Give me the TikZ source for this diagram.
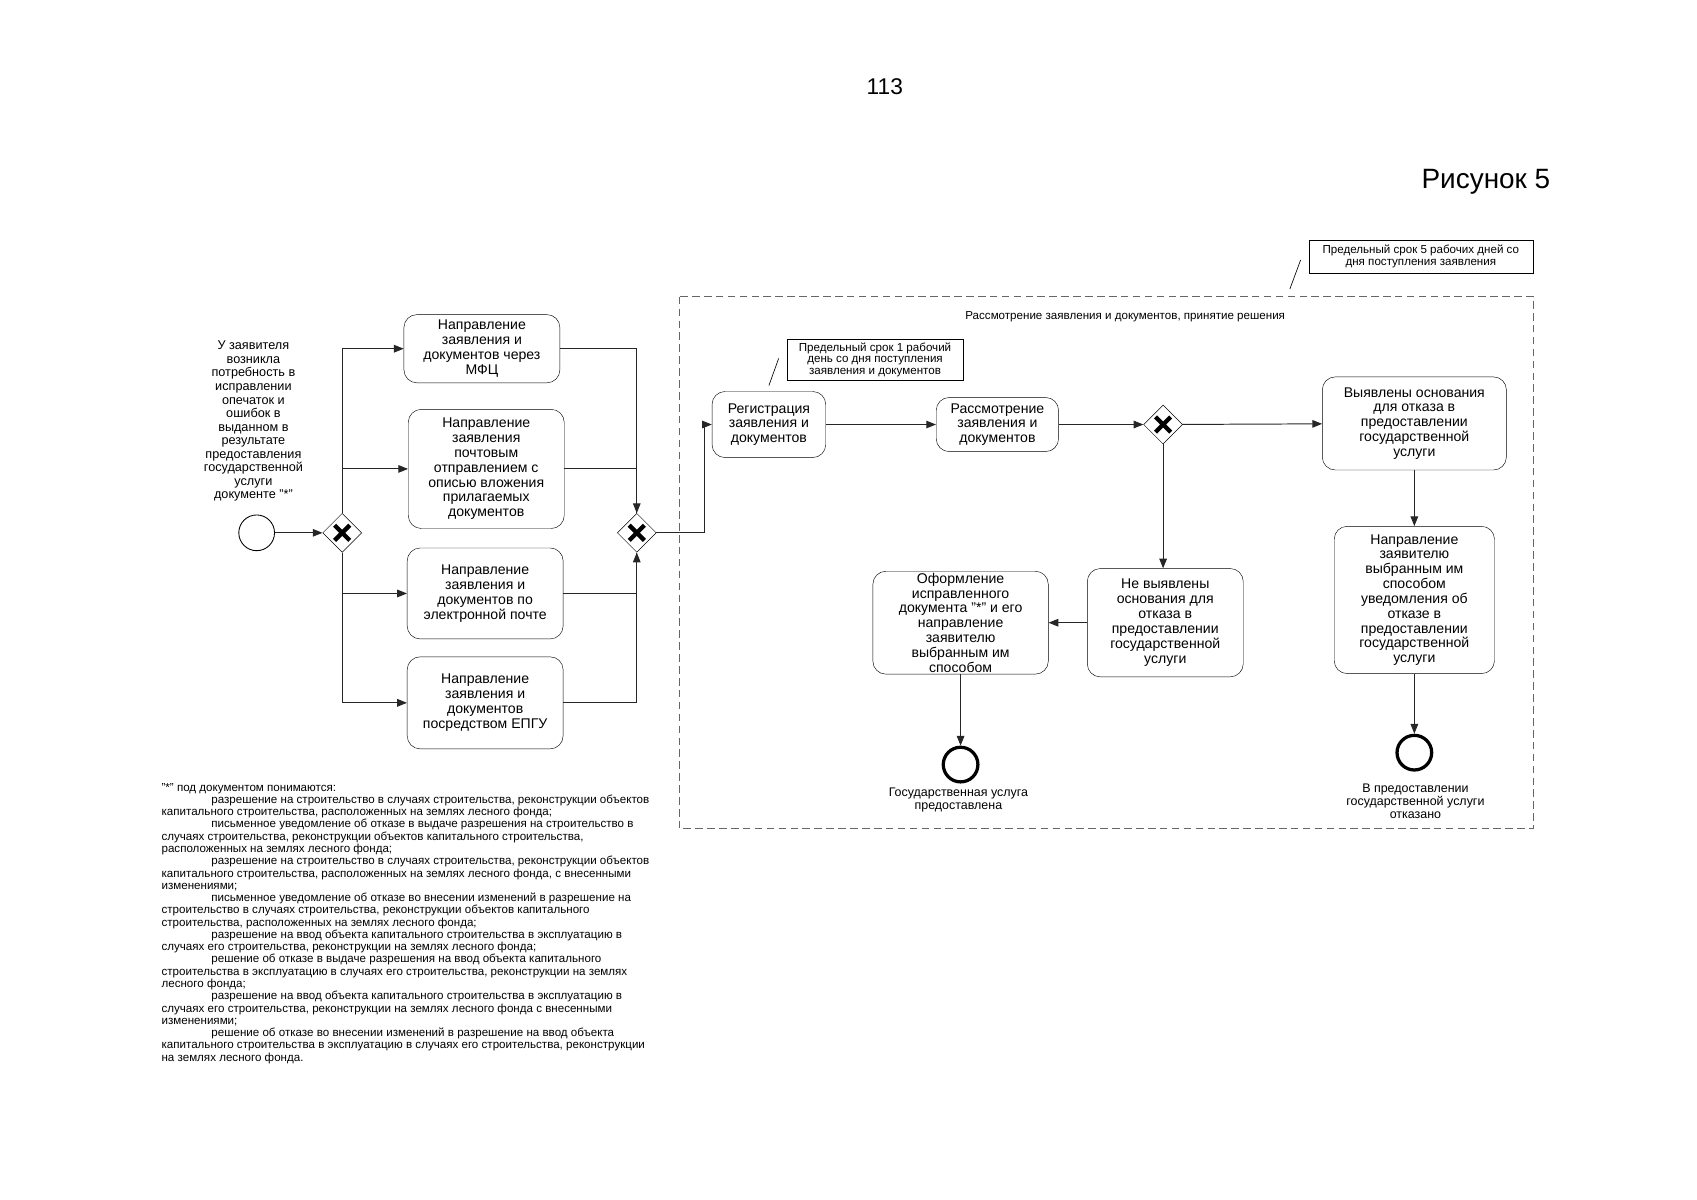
\documentclass[tikz,border=0pt]{standalone}
\usepackage{fontspec}
\setmainfont{Liberation Sans}
\usetikzlibrary{arrows.meta,shapes.geometric}

\newcommand{\fsz}[2]{\fontsize{#1}{#2}\selectfont}
\newcommand{\fnindent}{\hspace*{46pt}}

\begin{document}
\begin{tikzpicture}[x=1pt,y=-1pt,
    task/.style={draw, rounded corners=12pt, align=center, inner sep=1pt, font=\fsz{13}{13.7}},
    gate/.style={draw, diamond, minimum width=36pt, minimum height=36pt, inner sep=0pt,
      path picture={\draw[line width=4pt]
        ([xshift=-7pt,yshift=-7pt]path picture bounding box.center) -- ([xshift=7pt,yshift=7pt]path picture bounding box.center)
        ([xshift=-7pt,yshift=7pt]path picture bounding box.center) -- ([xshift=7pt,yshift=-7pt]path picture bounding box.center);}},
    note/.style={draw, align=center, inner sep=1pt, font=\fsz{10.7}{11}},
    line/.style={line width=0.9pt, black!85},
    flow/.style={line, -{Triangle[length=9pt,width=7pt]}},
  ]
  \useasboundingbox[fill=white] (0,0) rectangle (1567,1108);

  % Page number and caption
  \node[font=\fsz{21}{24}] (pagenum) at (817,80) {113};
  \node[font=\fsz{25.8}{28}, anchor=east] (caption) at (1435,168) {Рисунок 5};

  % Dashed frame of the review stage
  \draw[black!60, line width=0.8pt, dash pattern=on 7pt off 4pt] (627,274) rectangle (1416,765);
  \node[font=\fsz{10.7}{12}] (frametitle) at (1039,292) {Рассмотрение заявления и документов, принятие решения};
  \node[note, minimum width=207pt, minimum height=31pt] (term5) at (1312,237)
    {Предельный срок 5 рабочих дней со\\дня поступления заявления};
  \draw[line width=0.6pt] (1191,267) -- (1201,240);

  % Start event
  \node[align=center, font=\fsz{11.7}{12.5}] (need) at (234,389)
    {У заявителя\\возникла\\потребность в\\исправлении\\опечаток и\\ошибок в\\выданном в\\результате\\предоставления\\государственной\\услуги\\документе "*"};
  \node[circle, draw, line width=0.8pt, minimum size=33pt] (start) at (237,492) {};
  \node[gate] (g1) at (316,492) {};

  % Ways of sending the application
  \node[task, minimum width=144pt, minimum height=63pt] (mfc) at (445,322)
    {Направление\\заявления и\\документов через\\МФЦ};
  \node[task, minimum width=144pt, minimum height=110pt] (post) at (449,433)
    {Направление\\заявления\\почтовым\\отправлением с\\описью вложения\\прилагаемых\\документов};
  \node[task, minimum width=144pt, minimum height=84pt] (email) at (448,548)
    {Направление\\заявления и\\документов по\\электронной почте};
  \node[task, minimum width=144pt, minimum height=85pt] (epgu) at (448,649)
    {Направление\\заявления и\\документов\\посредством ЕПГУ};
  \node[gate] (g2) at (588,492) {};

  % Registration and review
  \node[task, minimum width=105pt, minimum height=61pt] (reg) at (710,392)
    {Регистрация\\заявления и\\документов};
  \node[note, minimum width=163pt, minimum height=38pt, font=\fsz{10.7}{10.5}] (term1) at (808,332)
    {Предельный срок 1 рабочий\\день со дня поступления\\заявления и документов};
  \draw[line width=0.6pt] (710,356) -- (719,331);
  \node[task, minimum width=113pt, minimum height=50pt] (rass) at (921,392)
    {Рассмотрение\\заявления и\\документов};
  \node[gate] (g3) at (1074,392) {};

  % Decision branches
  \node[task, minimum width=170pt, minimum height=86pt] (found) at (1306,391)
    {Выявлены основания\\для отказа в\\предоставлении\\государственной\\услуги};
  \node[task, minimum width=148pt, minimum height=136pt] (refuse) at (1306,554)
    {Направление\\заявителю\\выбранным им\\способом\\уведомления об\\отказе в\\предоставлении\\государственной\\услуги};
  \node[task, minimum width=144pt, minimum height=100pt] (notfound) at (1076,575)
    {Не выявлены\\основания для\\отказа в\\предоставлении\\государственной\\услуги};
  \node[task, minimum width=162pt, minimum height=95pt] (issue) at (887,575)
    {Оформление\\исправленного\\документа "*" и его\\направление\\заявителю\\выбранным им\\способом};

  % End events
  \node[circle, draw, line width=3pt, minimum size=32pt] (end1) at (887,706) {};
  \node[align=center, font=\fsz{11.5}{12.3}] (end1label) at (885,739)
    {Государственная услуга\\предоставлена};
  \node[circle, draw, line width=3pt, minimum size=32pt] (end2) at (1306,695) {};
  \node[align=center, font=\fsz{11.5}{12.3}] (end2label) at (1307,740)
    {В предоставлении\\государственной услуги\\отказано};

  % Connectors
  \draw[flow] (start) -- (g1);
  \draw[flow] (g1.north) |- (mfc.west);
  \draw[flow] (g1.north) |- (post.west);
  \draw[flow] (g1.south) |- (email.west);
  \draw[flow] (g1.south) |- (epgu.west);
  \draw[flow] (mfc.east) -| (g2.north);
  \draw[line] (post.east) -| (g2.north);
  \draw[line] (email.east) -| (g2.south);
  \draw[flow] (epgu.east) -| (g2.south);
  \draw[flow] (g2.east) -- ++(44,0) |- (reg.west);
  \draw[flow] (reg) -- (rass);
  \draw[flow] (rass) -- (g3);
  \draw[flow] (g3) -- (found);
  \draw[flow] (g3.south) -- (g3.south |- notfound.north);
  \draw[flow] (notfound) -- (issue);
  \draw[flow] (issue) -- (end1);
  \draw[flow] (found) -- (refuse);
  \draw[flow] (refuse) -- (end2);

  % Footnote
  \node[anchor=north west, align=left, inner sep=0pt, font=\fsz{10.7}{11.33}] (footnote) at (149,723)
    {"*" под  документом понимаются:\\
     \fnindent разрешение на строительство в случаях строительства, реконструкции объектов\\
     капитального строительства, расположенных на землях лесного фонда;\\
     \fnindent письменное уведомление об отказе в выдаче разрешения на строительство в\\
     случаях строительства, реконструкции объектов капитального строительства,\\
     расположенных на землях лесного фонда;\\
     \fnindent разрешение на строительство в случаях строительства, реконструкции объектов\\
     капитального строительства, расположенных на землях лесного фонда, с внесенными\\
     изменениями;\\
     \fnindent письменное уведомление об отказе во внесении изменений в разрешение на\\
     строительство в случаях строительства, реконструкции объектов капитального\\
     строительства, расположенных на землях лесного фонда;\\
     \fnindent разрешение на ввод объекта капитального строительства в эксплуатацию в\\
     случаях его строительства, реконструкции на землях лесного фонда;\\
     \fnindent решение об отказе в выдаче разрешения на ввод объекта капитального\\
     строительства в эксплуатацию в случаях его строительства, реконструкции на землях\\
     лесного фонда;\\
     \fnindent разрешение на ввод объекта капитального строительства в эксплуатацию в\\
     случаях его строительства, реконструкции на землях лесного фонда с внесенными\\
     изменениями;\\
     \fnindent решение об отказе  во внесении изменений в разрешение на ввод объекта\\
     капитального строительства в эксплуатацию в случаях его строительства, реконструкции\\
     на землях лесного фонда.};
\end{tikzpicture}
\end{document}
